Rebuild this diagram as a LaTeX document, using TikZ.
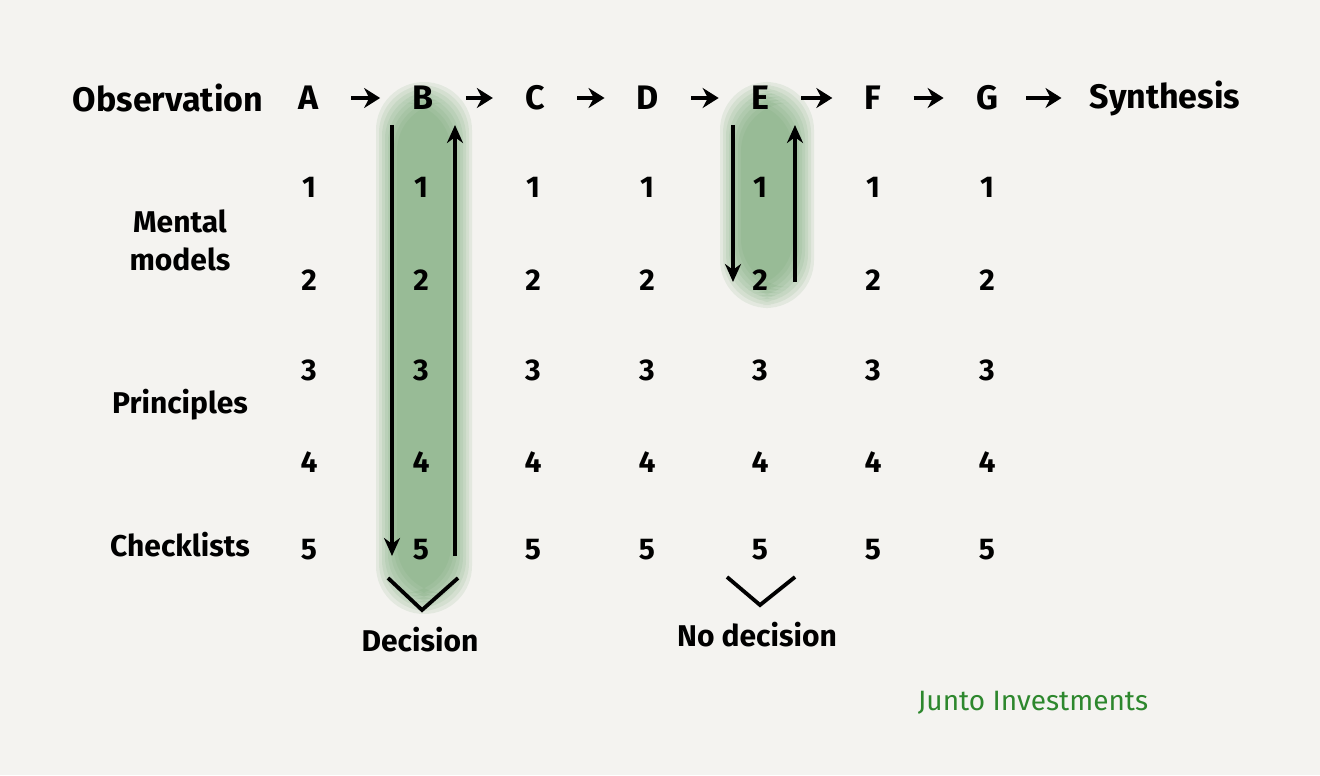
\documentclass[tikz,border=0pt]{standalone}
\usepackage{fontspec}
\setmainfont{Fira Sans}
\usetikzlibrary{positioning,arrows.meta}
\definecolor{paper}{RGB}{244,243,240}
\definecolor{hlgreen}{RGB}{105,160,105}
\definecolor{signgreen}{RGB}{45,135,45}
\tikzstyle{head}=[font=\fontsize{17}{20}\selectfont\bfseries,inner sep=1]
\tikzstyle{num}=[font=\fontsize{15}{18}\selectfont\bfseries,inner sep=1]
\tikzstyle{side}=[font=\fontsize{15}{19}\selectfont\bfseries,align=center,inner sep=1]
\tikzstyle{flow}=[line width=2.2,-{Stealth[length=8,width=10]},shorten <=15pt,shorten >=15pt]
\tikzstyle{loop}=[line width=1.9,-{Stealth[length=9,width=8]}]
\tikzstyle{vee}=[line width=1.9,line join=miter]
\tikzstyle{glow}=[fill=hlgreen,opacity=0.12,rounded corners=24]

\begin{document}
\begin{tikzpicture}[x=0.5pt,y=-0.5pt]
\useasboundingbox[fill=paper] (0,0) rectangle (1320,775);

% green highlights
\foreach \g in {0,3,...,21}{
  \fill[glow] (376+\g,82+\g) rectangle (472-\g,614-\g);
  \fill[glow] (720+\g,82+\g) rectangle (814-\g,308-\g);
}

% top row
\node[head] (obs) at (168,98) {Observation};
\foreach \l/\x in {A/309,B/423,C/535,D/648,E/760,F/873,G/987}
  \node[head] (\l) at (\x,98) {\l};
\node[head] (syn) at (1165,98) {Synthesis};

\draw[flow] (A) -- (B);
\draw[flow] (B) -- (C);
\draw[flow] (C) -- (D);
\draw[flow] (D) -- (E);
\draw[flow] (E) -- (F);
\draw[flow] (F) -- (G);
\draw[flow,shorten <=13pt,shorten >=13pt] (G) -- (syn);

% grid of numbers
\foreach \l/\x in {A/309,B/421,C/533,D/647,E/760,F/873,G/987}
  \foreach \r/\y in {1/187,2/280,3/370,4/462,5/550}
    \node[num] (\l-\r) at (\x,\y) {\r};

% side labels
\node[side] (mental) at (180,240) {Mental\\models};
\node[side] (princ) at (180,405) {Principles};
\node[side] (check) at (180,545) {Checklists};

% loops
\coordinate (bdTop) at (392,125);
\coordinate (bdBot) at (392,556);
\coordinate (buBot) at (455,556);
\coordinate (buTop) at (455,125);
\draw[loop] (bdTop) -- (bdBot);
\draw[loop] (buBot) -- (buTop);

\coordinate (edTop) at (733,125);
\coordinate (edBot) at (733,282);
\coordinate (euBot) at (795,282);
\coordinate (euTop) at (795,125);
\draw[loop] (edTop) -- (edBot);
\draw[loop] (euBot) -- (euTop);

% decisions
\draw[vee] (388,578) -- (422,610) -- (458,578);
\draw[vee] (727,577) -- (760,605) -- (795,577);
\node[side] (dec) at (420,640) {Decision};
\node[side] (nodec) at (757,635) {No decision};

\node[font=\fontsize{14}{16}\selectfont,text=signgreen] (junto) at (1033,703) {Junto Investments};
\end{tikzpicture}
\end{document}
